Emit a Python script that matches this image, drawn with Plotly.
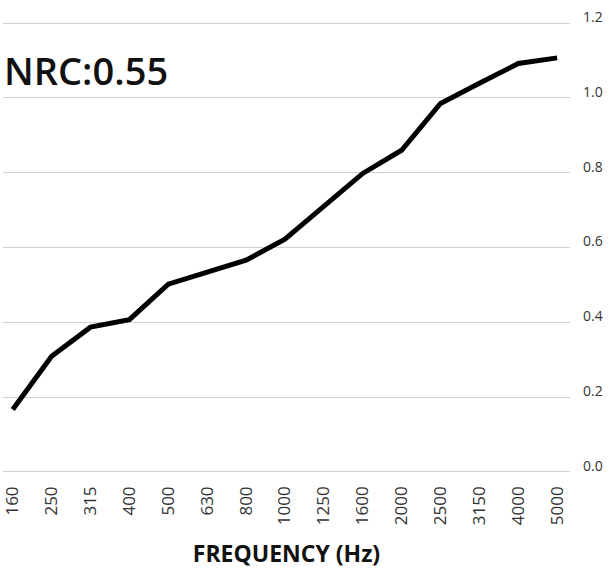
import plotly.graph_objects as go

frequencies = ["160", "250", "315", "400", "500", "630", "800", "1000",
               "1250", "1600", "2000", "2500", "3150", "4000", "5000"]
absorption = [0.167, 0.309, 0.387, 0.407, 0.502, 0.534, 0.566, 0.622,
              0.712, 0.798, 0.860, 0.985, 1.039, 1.092, 1.107]
y_ticks = [0.0, 0.2, 0.4, 0.6, 0.8, 1.0, 1.2]
nrc_label = "NRC:0.55"
x_title = "FREQUENCY (Hz)"

FONT = "Open Sans"

fig = go.Figure()
fig.add_trace(go.Scatter(
    x=frequencies, y=absorption, mode="lines",
    line=dict(color="#000000", width=5),
    hoverinfo="x+y", showlegend=False,
))

fig.update_layout(
    width=609, height=569,
    margin=dict(l=3, r=39, t=22, b=96),
    paper_bgcolor="white", plot_bgcolor="white",
    font=dict(family=FONT, color="#333333"),
    xaxis=dict(
        type="category", range=[-0.25, 14.33],
        showgrid=False, zeroline=False, showline=False, ticks="",
        tickangle=-90, tickfont=dict(size=17, color="#333333"),
        ticklabelstandoff=9, automargin=False,
        title=dict(text=x_title, font=dict(size=23, color="#111111", weight=700), standoff=22),
    ),
    yaxis=dict(
        side="right", range=[-0.003, 1.203], tickvals=y_ticks, tickformat=".1f",
        showgrid=True, gridcolor="#d0d0d0", gridwidth=1,
        zeroline=False, showline=False, ticks="",
        tickfont=dict(size=14, color="#333333"),
        ticklabelstandoff=12, ticklabelshift=-6, automargin=False,
    ),
    annotations=[dict(
        text=nrc_label, xref="paper", yref="paper",
        x=0, y=0.893, xanchor="left", yanchor="middle", xshift=-1,
        showarrow=False, font=dict(size=38, color="#111111", family=FONT, weight=600),
    )],
)

fig.write_html(
    "out.html",
    config={"displayModeBar": False},
    post_script="document.body.style.margin='0';document.body.style.overflow='hidden';",
)
